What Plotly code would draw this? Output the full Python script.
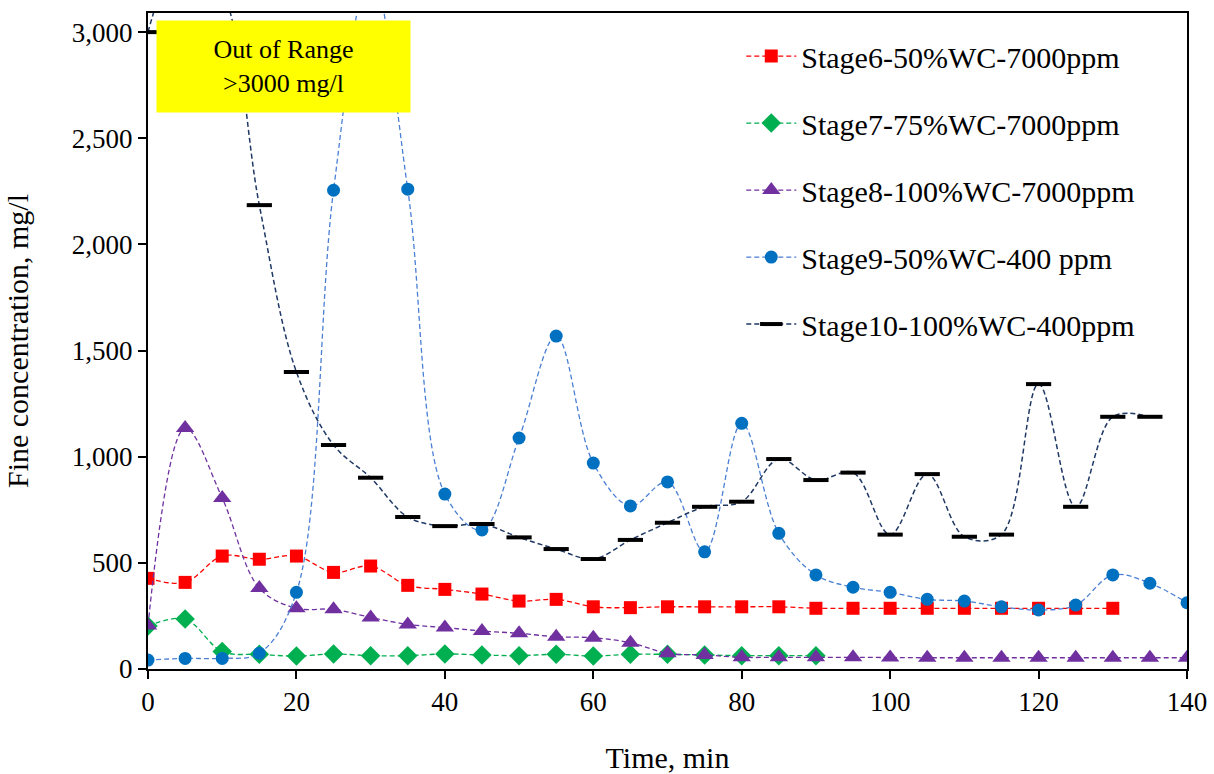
import plotly.graph_objects as go

time = [0, 5, 10, 15, 20, 25, 30, 35, 40, 45, 50, 55, 60, 65, 70, 75, 80, 85, 90,
        95, 100, 105, 110, 115, 120, 125, 130, 135, 140]

stage6 = [427, 408, 532, 517, 532, 455, 485, 394, 375, 353, 320, 328, 293, 289, 293,
          293, 293, 293, 286, 286, 286, 286, 286, 286, 286, 286, 286]
stage7 = [202, 235, 82, 69, 61, 71, 63, 63, 71, 66, 63, 69, 61, 69, 69, 66, 63, 63, 63]
stage8 = [205, 1135, 805, 381, 286, 281, 243, 210, 195, 179, 168, 152, 147, 124, 74,
          66, 55, 55, 55, 55, 54, 53, 53, 53, 53, 53, 53, 53, 53]
stage9 = [42, 50, 50, 74, 361, 2255, 3300, 2260, 824, 655, 1088, 1568, 970, 768, 881,
          552, 1157, 639, 443, 385, 361, 328, 320, 293, 278, 301, 443, 404, 312]
stage10 = [3000, 3400, 3200, 2185, 1399, 1055, 901, 716, 673, 683, 620, 565, 518, 608,
           689, 764, 788, 989, 890, 925, 633, 918, 623, 633, 1342, 764, 1188, 1188]

names = ["Stage6-50%WC-7000ppm", "Stage7-75%WC-7000ppm", "Stage8-100%WC-7000ppm",
         "Stage9-50%WC-400 ppm", "Stage10-100%WC-400ppm"]

FONT = "Liberation Serif"
dash = "5px,3px"

fig = go.Figure()
fig.add_trace(go.Scatter(x=time[:len(stage6)], y=stage6, name=names[0], mode="lines+markers",
                         line=dict(color="#FF0000", width=1.3, dash=dash, shape="spline"),
                         marker=dict(symbol="square", size=13, color="#FF0000"),
                         legendgroup="a"))
fig.add_trace(go.Scatter(x=time[:len(stage7)], y=stage7, name=names[1], mode="lines+markers",
                         line=dict(color="#00B050", width=1.3, dash=dash, shape="spline"),
                         marker=dict(symbol="diamond", size=15, color="#00B050"),
                         legendgroup="b"))
fig.add_trace(go.Scatter(x=time[:len(stage8)], y=stage8, name=names[2], mode="lines+markers",
                         line=dict(color="#7030A0", width=1.3, dash=dash, shape="spline"),
                         marker=dict(symbol="triangle-up", size=16, color="#7030A0"),
                         legendgroup="c"))
fig.add_trace(go.Scatter(x=time[:len(stage9)], y=stage9, name=names[3], mode="lines+markers",
                         line=dict(color="#4A7FD4", width=1.3, dash=dash, shape="spline"),
                         marker=dict(symbol="circle", size=13, color="#0070C0"),
                         legendgroup="d"))
fig.add_trace(go.Scatter(x=time[:len(stage10)], y=stage10, name=names[4], mode="lines+markers",
                         line=dict(color="#1F3864", width=1.5, dash=dash, shape="spline"),
                         marker=dict(symbol="line-ew", size=18,
                                     line=dict(color="#000000", width=4)),
                         legendgroup="e"))

fig.add_annotation(xref="paper", yref="paper", x=0.1304, y=0.9184,
                   xanchor="center", yanchor="middle",
                   text="Out of Range<br>>3000 mg/l", showarrow=False,
                   bgcolor="#FFFF00", width=253, height=91, borderpad=0,
                   font=dict(family=FONT, size=26, color="black"))

fig.update_layout(
    width=1214, height=774,
    margin=dict(l=148, r=27, t=13, b=105),
    paper_bgcolor="white", plot_bgcolor="white",
    font=dict(family=FONT, size=27, color="black"),
    legend=dict(x=0.571, y=0.974, xanchor="left", yanchor="top",
                font=dict(family=FONT, size=30), tracegroupgap=25,
                bgcolor="rgba(0,0,0,0)", itemwidth=50),
    showlegend=True,
)
fig.update_xaxes(range=[0, 140], tickvals=list(range(0, 141, 20)),
                 showline=True, linecolor="black", linewidth=2, mirror=True,
                 ticks="outside", ticklen=8, tickwidth=2, tickcolor="black",
                 showgrid=False, zeroline=False, automargin=False,
                 title=dict(text="Time, min", font=dict(family=FONT, size=30), standoff=34))
fig.update_yaxes(range=[0, 3090], tickvals=list(range(0, 3001, 500)),
                 tickformat=",d",
                 showline=True, linecolor="black", linewidth=2, mirror=True,
                 ticks="outside", ticklen=8, tickwidth=2, tickcolor="black",
                 showgrid=False, zeroline=False, automargin=False,
                 title=dict(text="Fine concentration, mg/l", font=dict(family=FONT, size=30),
                            standoff=34))

fig.write_html("out.html")
